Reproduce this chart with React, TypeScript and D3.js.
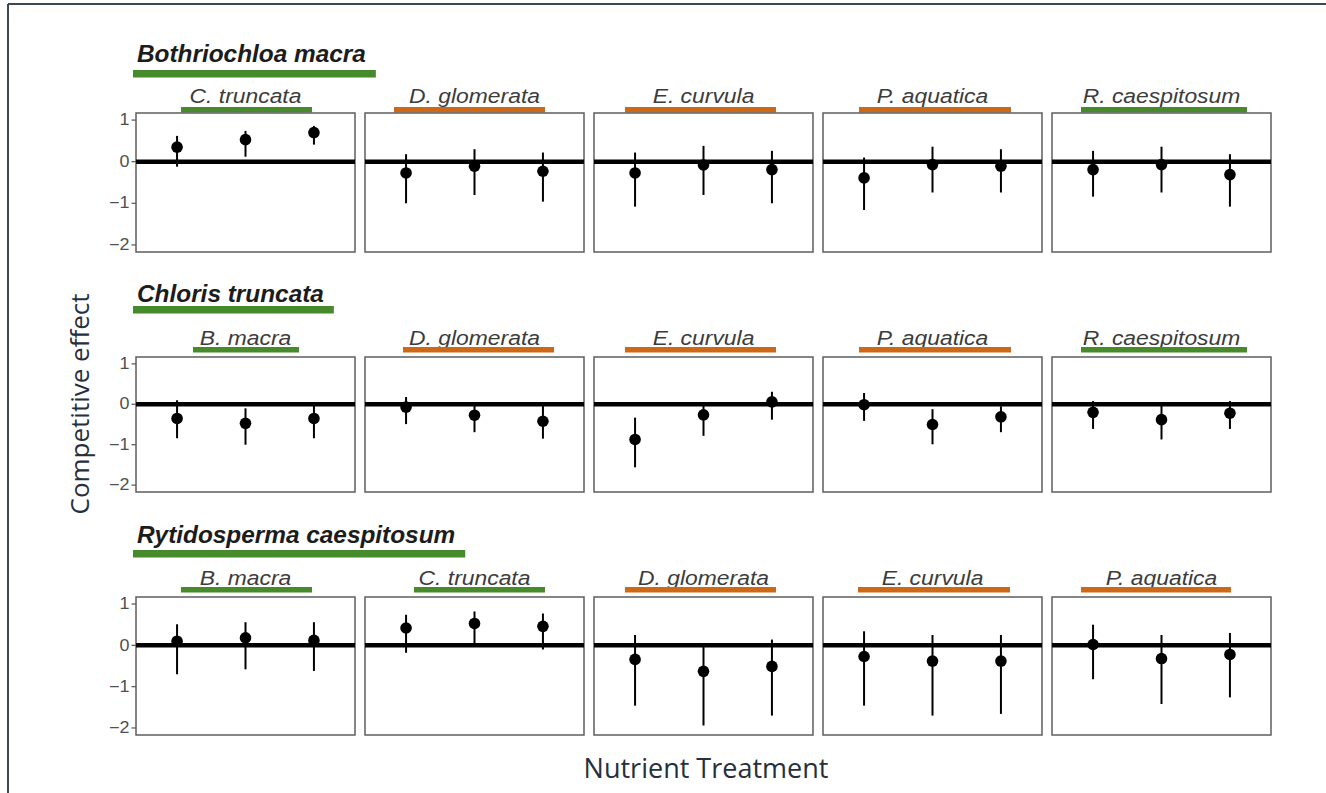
import React, { useEffect, useRef } from "react";
import * as d3 from "d3";

// ---- data -------------------------------------------------------------
const treatments = ["Low", "Medium", "High"];
const yTicks = [1, 0, -1, -2];

const focalSpecies = ["Bothriochloa macra", "Chloris truncata", "Rytidosperma caespitosum"];

const bothriochloaNeighbours = ["C. truncata", "D. glomerata", "E. curvula", "P. aquatica", "R. caespitosum"];
const chlorisNeighbours = ["B. macra", "D. glomerata", "E. curvula", "P. aquatica", "R. caespitosum"];
const rytidospermaNeighbours = ["B. macra", "C. truncata", "D. glomerata", "E. curvula", "P. aquatica"];

const nativeSpecies = ["B. macra", "C. truncata", "R. caespitosum"];

// competitive effect estimates (mean, lower, upper) per neighbour x treatment
const bothriochloaMean = [[0.35, 0.53, 0.70], [-0.27, -0.11, -0.23], [-0.27, -0.08, -0.19], [-0.39, -0.07, -0.11], [-0.19, -0.07, -0.31]];
const bothriochloaLower = [[-0.12, 0.12, 0.41], [-1.0, -0.8, -0.96], [-1.08, -0.8, -1.0], [-1.16, -0.74, -0.74], [-0.84, -0.74, -1.08]];
const bothriochloaUpper = [[0.62, 0.74, 0.86], [0.18, 0.30, 0.22], [0.22, 0.38, 0.26], [0.10, 0.36, 0.30], [0.26, 0.36, 0.18]];

const chlorisMean = [[-0.35, -0.47, -0.35], [-0.07, -0.27, -0.42], [-0.87, -0.26, 0.06], [-0.01, -0.50, -0.31], [-0.20, -0.38, -0.22]];
const chlorisLower = [[-0.84, -1.0, -0.84], [-0.49, -0.69, -0.85], [-1.56, -0.78, -0.38], [-0.41, -0.99, -0.69], [-0.61, -0.87, -0.61]];
const chlorisUpper = [[0.10, -0.10, 0.02], [0.18, 0.02, 0.05], [-0.33, 0.02, 0.31], [0.28, -0.12, -0.05], [0.08, -0.02, 0.08]];

const rytidospermaMean = [[0.10, 0.18, 0.12], [0.42, 0.53, 0.46], [-0.34, -0.63, -0.51], [-0.27, -0.38, -0.38], [0.02, -0.32, -0.22]];
const rytidospermaLower = [[-0.70, -0.58, -0.62], [-0.18, 0.0, -0.10], [-1.46, -1.94, -1.70], [-1.46, -1.70, -1.66], [-0.82, -1.42, -1.26]];
const rytidospermaUpper = [[0.51, 0.56, 0.56], [0.74, 0.82, 0.77], [0.25, 0.02, 0.14], [0.34, 0.25, 0.25], [0.50, 0.25, 0.30]];

// ---- layout -----------------------------------------------------------
const W = 1326;
const H = 793;
const PANEL_X0 = 136;
const PANEL_W = 219;
const PANEL_GAP = 10;
const ROW_TOP = [113, 357, 597];
const ROW_H = [139, 135, 138];
const Y_DOMAIN: [number, number] = [-2.17, 1.17];
const TITLE_BASE = [62, 302, 543];
const TITLE_BAR_Y = [70, 306, 550];
const STRIP_BASE = [103, 345, 585];
const STRIP_BAR_Y = [107, 347, 587];
// underline extents of each facet strip, relative to the panel's left edge
const STRIP_BARS = [
  [[45, 176], [29, 180], [31, 182], [36, 188], [29, 195]],
  [[57, 163], [38, 189], [31, 182], [36, 188], [29, 195]],
  [[45, 176], [49, 180], [31, 182], [35, 187], [29, 179]],
];

const GREEN = "#468a2b";
const ORANGE = "#cd6817";
const FRAME = "#3d4855";
const SANS = "'Liberation Sans', Arial, sans-serif";

export default function App() {
  const ref = useRef<SVGSVGElement>(null);

  useEffect(() => {
    const svg = d3.select(ref.current);
    svg.selectAll("*").remove();

    svg.append("rect").attr("width", W).attr("height", H).attr("fill", "#fff");

    // slide frame
    svg.append("line").attr("x1", 8).attr("x2", W).attr("y1", 4).attr("y2", 4)
      .attr("stroke", FRAME).attr("stroke-width", 2);
    svg.append("line").attr("x1", 8).attr("x2", 8).attr("y1", 4).attr("y2", H)
      .attr("stroke", FRAME).attr("stroke-width", 2);

    const rows = [
      { focal: focalSpecies[0], neighbours: bothriochloaNeighbours, mean: bothriochloaMean, lo: bothriochloaLower, hi: bothriochloaUpper },
      { focal: focalSpecies[1], neighbours: chlorisNeighbours, mean: chlorisMean, lo: chlorisLower, hi: chlorisUpper },
      { focal: focalSpecies[2], neighbours: rytidospermaNeighbours, mean: rytidospermaMean, lo: rytidospermaLower, hi: rytidospermaUpper },
    ];

    const x = d3.scalePoint<string>().domain(treatments).range([0, PANEL_W]).padding(0.6);

    rows.forEach((row, r) => {
      const top = ROW_TOP[r];
      const y = d3.scaleLinear().domain(Y_DOMAIN).range([top + ROW_H[r], top]);

      // focal species title with underline
      const tg = svg.append("g").attr("transform", `translate(137,${TITLE_BASE[r]}) scale(1.06,1)`);
      const tt = tg.append("text")
        .attr("font-family", SANS).attr("font-size", 23).attr("font-weight", "bold")
        .attr("font-style", "italic").attr("fill", "#1c1c1c").text(row.focal);
      const tw = (tt.node() as SVGTextElement).getComputedTextLength() * 1.06;
      svg.insert("rect", "g").attr("x", 133).attr("y", TITLE_BAR_Y[r])
        .attr("width", tw + 14).attr("height", 7.5).attr("fill", GREEN);

      // y axis on the first panel
      yTicks.forEach((t) => {
        svg.append("line").attr("x1", PANEL_X0 - 4.5).attr("x2", PANEL_X0)
          .attr("y1", y(t)).attr("y2", y(t)).attr("stroke", "#555").attr("stroke-width", 1.2);
        svg.append("g").attr("transform", `translate(${PANEL_X0 - 6.5},${y(t)}) scale(1.12,1)`)
          .append("text")
          .attr("text-anchor", "end").attr("dominant-baseline", "central")
          .attr("font-family", SANS).attr("font-size", 16).attr("fill", "#505050")
          .text(t < 0 ? `\u2212${Math.abs(t)}` : `${t}`);
      });

      row.neighbours.forEach((nb, p) => {
        const left = PANEL_X0 + p * (PANEL_W + PANEL_GAP);
        const colour = nativeSpecies.includes(nb) ? GREEN : ORANGE;

        // facet strip label
        const sg = svg.append("g")
          .attr("transform", `translate(${left + PANEL_W / 2},${STRIP_BASE[r]}) scale(1.09,1)`);
        sg.append("text").attr("text-anchor", "middle")
          .attr("font-family", SANS).attr("font-size", 21).attr("font-style", "italic")
          .attr("fill", "#3c3c3c").text(nb);
        const [b0, b1] = STRIP_BARS[r][p];
        svg.append("rect").attr("x", left + b0).attr("y", STRIP_BAR_Y[r])
          .attr("width", b1 - b0).attr("height", 5.5).attr("fill", colour);

        const g = svg.append("g").attr("transform", `translate(${left},0)`);
        g.append("rect").attr("x", 0).attr("y", top).attr("width", PANEL_W).attr("height", ROW_H[r])
          .attr("fill", "#fff").attr("stroke", "#5e5e5e").attr("stroke-width", 1.5);

        g.append("line").attr("x1", 0).attr("x2", PANEL_W).attr("y1", y(0)).attr("y2", y(0))
          .attr("stroke", "#000").attr("stroke-width", 4.5);

        treatments.forEach((tr, i) => {
          g.append("line").attr("x1", x(tr)!).attr("x2", x(tr)!)
            .attr("y1", y(row.lo[p][i])).attr("y2", y(row.hi[p][i]))
            .attr("stroke", "#000").attr("stroke-width", 2);
          g.append("circle").attr("cx", x(tr)!).attr("cy", y(row.mean[p][i])).attr("r", 5.8)
            .attr("fill", "#000");
        });
      });
    });

    // axis titles
    svg.append("text").attr("transform", "translate(89,404) rotate(-90)")
      .attr("text-anchor", "middle").attr("font-family", "'Open Sans', sans-serif")
      .attr("font-size", 26).attr("fill", "#26303c").text("Competitive effect");
    svg.append("text").attr("x", 706).attr("y", 778)
      .attr("text-anchor", "middle").attr("font-family", "'Open Sans', sans-serif")
      .attr("font-size", 27).attr("fill", "#26303c").text("Nutrient Treatment");
  }, []);

  return (
    <div style={{ position: "absolute", left: 0, top: 0 }}>
      <svg ref={ref} width={W} height={H} style={{ display: "block" }} />
    </div>
  );
}
